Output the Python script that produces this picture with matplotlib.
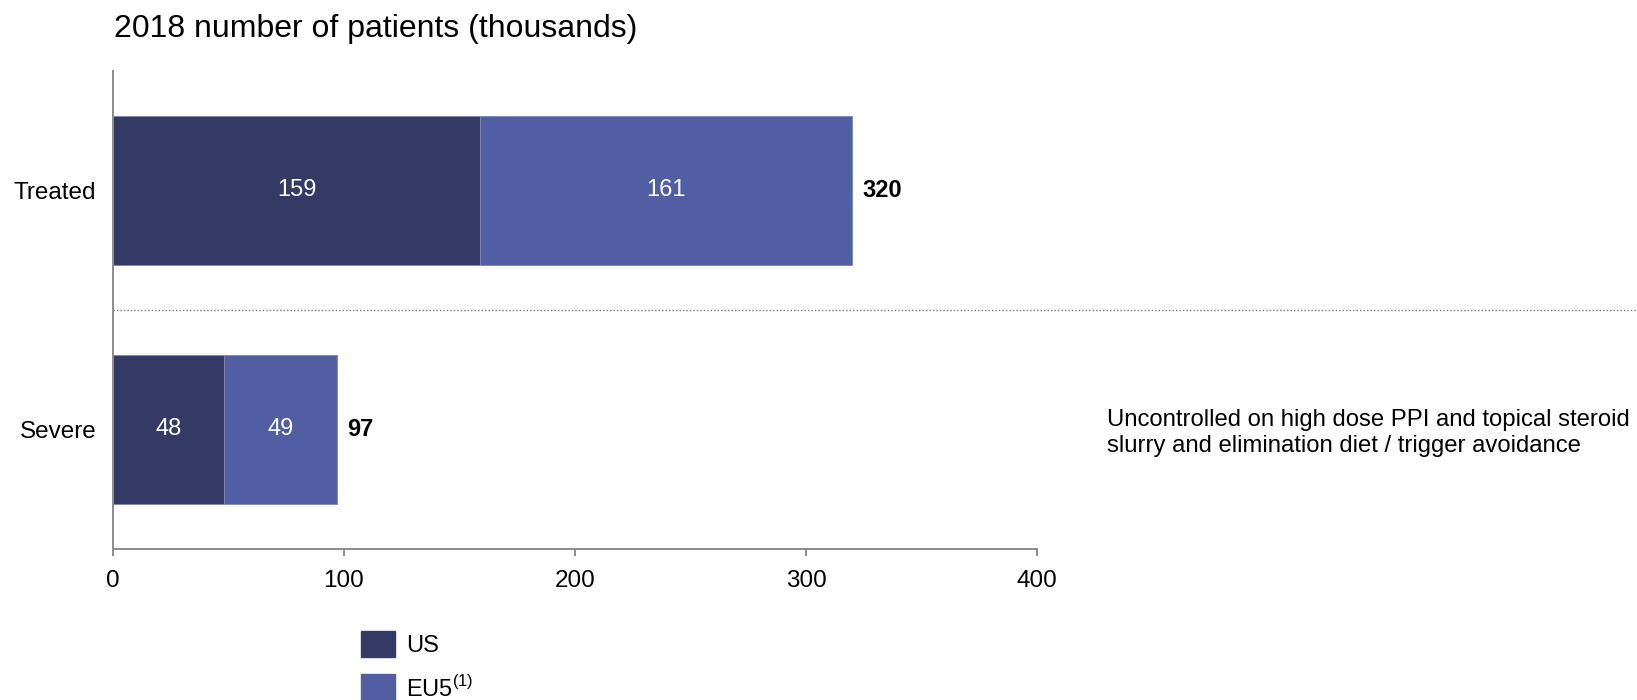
import matplotlib
matplotlib.use("Agg")
import matplotlib.pyplot as plt
from matplotlib.patches import Rectangle

plt.rcParams["font.family"] = ["Liberation Sans", "DejaVu Sans"]
plt.rcParams["mathtext.fontset"] = "custom"
plt.rcParams["mathtext.rm"] = "Liberation Sans"

# ------------------------------------------------
# Data
# ------------------------------------------------
categories = ["Severe", "Treated"]
us_values = [48, 159]
eu5_values = [49, 161]
totals = [97, 320]
series_names = ["US", r"EU5$^{\mathrm{(1)}}$"]
x_ticks = [0, 100, 200, 300, 400]
note = ("Uncontrolled on high dose PPI and topical steroid\n"
        "slurry and elimination diet / trigger avoidance")

US_COLOR = "#343A65"
EU_COLOR = "#525EA3"
AXIS_GREY = "#8c8c8c"

fig = plt.figure(figsize=(16.37, 7.0), dpi=100)
ax = fig.add_axes([0.069, 0.2157, 0.5645, 0.683])

y = list(range(len(categories)))

ax.barh(y, us_values, height=0.626, color=US_COLOR,
        edgecolor="#7d84b5", linewidth=0.6)
ax.barh(y, eu5_values, left=us_values, height=0.626, color=EU_COLOR,
        edgecolor="#7d84b5", linewidth=0.6)

# segment labels
for yi, us, eu in zip(y, us_values, eu5_values):
    ax.text(us / 2, yi, str(us), ha="center", va="center",
            color="white", fontsize=17)
    ax.text(us + eu / 2, yi, str(eu), ha="center", va="center",
            color="white", fontsize=17)

# totals
for yi, tot in zip(y, totals):
    ax.text(tot + 4.3, yi, str(tot), ha="left", va="center",
            color="black", fontsize=17, fontweight="bold")

ax.set_xlim(0, 400)
ax.set_ylim(-0.5, 1.5)
ax.set_xticks(x_ticks)
ax.set_xticklabels([str(t) for t in x_ticks])
ax.set_yticks(y)
ax.set_yticklabels(categories)

for side in ["top", "right"]:
    ax.spines[side].set_visible(False)
for side in ["left", "bottom"]:
    ax.spines[side].set_color(AXIS_GREY)
    ax.spines[side].set_linewidth(1.4)

ax.tick_params(axis="x", direction="out", length=5, width=1.4,
               color=AXIS_GREY, labelsize=17.5, pad=10)
ax.tick_params(axis="y", length=0, labelsize=17.5, pad=12)

# dotted separator running past the axes to the figure edge
ax.axhline(0.5, xmin=0, xmax=(1637 - 113) / (1037 - 113), color="#777777",
           linestyle=(0, (1, 1.5)), linewidth=1.0, clip_on=False)

# title
fig.text(114 / 1637, 1 - 29 / 700, "2018 number of patients (thousands)",
         ha="left", va="center", fontsize=23)

# side note
fig.text(1107 / 1637, 1 - 433 / 700, note, ha="left", va="center",
         fontsize=17.2, linespacing=1.2)

# legend
legend_colors = [US_COLOR, EU_COLOR]
for i, (name, col) in enumerate(zip(series_names, legend_colors)):
    top = 631 + i * 43
    fig.patches.append(Rectangle((361 / 1637, 1 - (top + 26) / 700),
                                 34 / 1637, 26 / 700,
                                 transform=fig.transFigure, color=col))
    fig.text(406 / 1637, 1 - (top + 15) / 700, name, ha="left",
             va="center", fontsize=17)

fig.savefig("out.png", dpi=100)
